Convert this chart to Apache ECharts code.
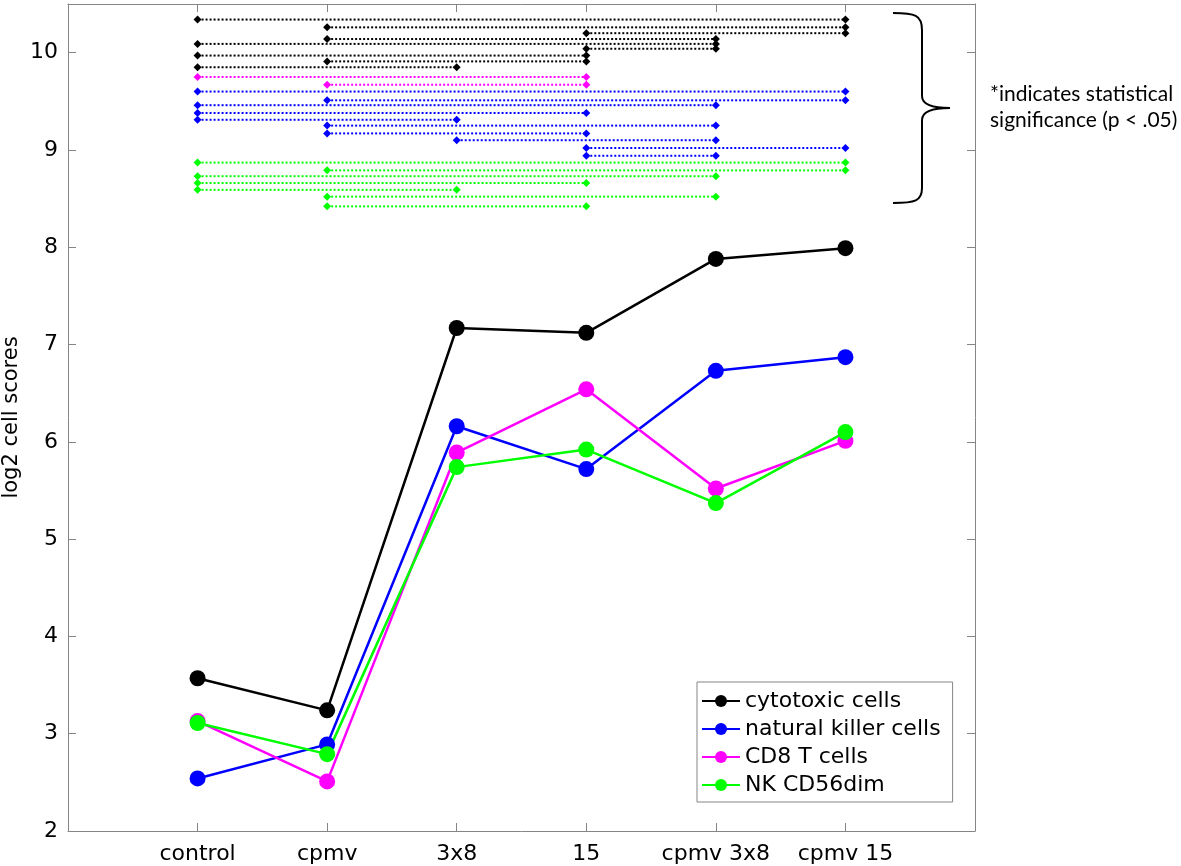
<!DOCTYPE html>
<html>
<head>
<meta charset="utf-8">
<script src="https://cdn.jsdelivr.net/npm/echarts@6/dist/echarts.min.js"></script>
<style>
  html, body { margin: 0; padding: 0; background: #fff; }
  #chart { width: 1181px; height: 866px; }
</style>
</head>
<body>
<div id="chart"></div>
<script>
// groups on the x axis, placed at 1..6
const categories = ['control', 'cpmv', '3x8', '15', 'cpmv 3x8', 'cpmv 15']

const seriesNames = ['cytotoxic cells', 'natural killer cells', 'CD8 T cells', 'NK CD56dim']
const cytotoxic = [3.57, 3.24, 7.17, 7.12, 7.88, 7.99]
const naturalKiller = [2.54, 2.89, 6.16, 5.72, 6.73, 6.87]
const cd8T = [3.13, 2.51, 5.89, 6.54, 5.52, 6.01]
const nkCd56dim = [3.11, 2.79, 5.74, 5.92, 5.37, 6.10]

// significant pairs: [from group, to group, height of the bracket line]
const sigCytotoxic = [[1, 6, 10.34], [2, 6, 10.26], [4, 6, 10.20], [2, 5, 10.14], [1, 5, 10.09],
  [4, 5, 10.04], [1, 4, 9.97], [2, 4, 9.91], [1, 3, 9.85]]
const sigCd8T = [[1, 4, 9.75], [2, 4, 9.67]]
const sigNaturalKiller = [[1, 6, 9.60], [2, 6, 9.51], [1, 5, 9.46], [1, 4, 9.38], [1, 3, 9.31],
  [2, 5, 9.25], [2, 4, 9.17], [3, 5, 9.10], [4, 6, 9.02], [4, 5, 8.94]]
const sigNkCd56dim = [[1, 6, 8.87], [2, 6, 8.79], [1, 5, 8.73], [1, 4, 8.66], [1, 3, 8.59],
  [2, 5, 8.52], [2, 4, 8.42]]

const yTicks = { min: 2, max: 10.5, interval: 1 }
const xTicks = { min: 0, max: 7, interval: 1 }

const colors = ['#000000', '#0000ff', '#ff00ff', '#00ff00']
const axisGray = '#858585'
const font = 'DejaVu Sans'

const chart = echarts.init(document.getElementById('chart'))

const toPoints = values => values.map((v, i) => [i + 1, v])

function mainSeries(name, values, color) {
  return {
    name: name,
    type: 'line',
    data: toPoints(values),
    symbol: 'circle',
    symbolSize: 16,
    lineStyle: { color: color, width: 2.5 },
    itemStyle: { color: color },
    z: 5
  }
}

function sigSeries(pairs, color) {
  return pairs.map(p => ({
    type: 'line',
    data: [[p[0], p[2]], [p[1], p[2]]],
    symbol: 'diamond',
    symbolSize: 8,
    lineStyle: { color: color, width: 2, type: [2, 2] },
    itemStyle: { color: color },
    silent: true,
    z: 3
  }))
}

const boxAxis = (extra) => Object.assign({
  type: 'value',
  axisLine: { show: true, onZero: false, lineStyle: { color: axisGray, width: 1 } },
  axisTick: { show: true, inside: true, length: 8, lineStyle: { color: axisGray } },
  splitLine: { show: false }
}, extra)

// curly brace next to the significance lines
const braceStyle = { fill: 'none', stroke: '#000', lineWidth: 2 }
const curve = (x1, y1, cx1, cy1, cx2, cy2, x2, y2) => ({
  type: 'bezierCurve',
  shape: { x1: x1, y1: y1, cpx1: cx1, cpy1: cy1, cpx2: cx2, cpy2: cy2, x2: x2, y2: y2 },
  style: braceStyle
})
const straight = (x1, y1, x2, y2) => ({
  type: 'line', shape: { x1: x1, y1: y1, x2: x2, y2: y2 }, style: braceStyle
})

const option = {
  animation: false,
  backgroundColor: '#fff',
  grid: { left: 68, right: 206, top: 4, bottom: 35, containLabel: false, outerBoundsMode: 'none' },
  xAxis: [
    boxAxis({
      position: 'bottom', min: xTicks.min, max: xTicks.max, interval: xTicks.interval,
      axisLabel: {
        color: '#000', fontFamily: font, fontSize: 22, margin: 12,
        formatter: v => categories[v - 1] || ''
      }
    }),
    boxAxis({
      position: 'top', min: xTicks.min, max: xTicks.max, interval: xTicks.interval,
      axisLabel: { show: false }
    })
  ],
  yAxis: [
    boxAxis({
      position: 'left', min: yTicks.min, max: yTicks.max, interval: yTicks.interval,
      name: 'log2 cell scores', nameLocation: 'middle', nameGap: 46, nameMoveOverlap: false,
      nameTextStyle: { color: '#000', fontFamily: font, fontSize: 21 },
      axisLabel: { color: '#000', fontFamily: font, fontSize: 22, margin: 10, showMaxLabel: false }
    }),
    boxAxis({
      position: 'right', min: yTicks.min, max: yTicks.max, interval: yTicks.interval,
      axisLabel: { show: false }
    })
  ],
  legend: {
    data: seriesNames,
    orient: 'vertical',
    left: 697,
    top: 682,
    itemWidth: 38,
    itemHeight: 15,
    itemGap: 6,
    padding: [8, 12, 6, 4],
    borderColor: axisGray,
    borderWidth: 1,
    backgroundColor: '#fff',
    textStyle: { color: '#000', fontFamily: font, fontSize: 22, lineHeight: 22 }
  },
  graphic: [
    curve(893, 13, 915, 13, 922, 15, 922, 30),
    straight(922, 30, 922, 96),
    curve(922, 96, 922, 105, 935, 108, 950, 108),
    curve(950, 108, 935, 108, 922, 111, 922, 120),
    straight(922, 120, 922, 188),
    curve(922, 188, 922, 201, 915, 203, 893, 203),
    {
      type: 'text',
      left: 990,
      top: 81,
      style: {
        text: '*indicates statistical\nsignificance (p < .05)',
        fill: '#000',
        font: '21px Lato',
        lineHeight: 26
      }
    }
  ],
  series: [].concat(
    sigSeries(sigCytotoxic, colors[0]),
    sigSeries(sigCd8T, colors[2]),
    sigSeries(sigNaturalKiller, colors[1]),
    sigSeries(sigNkCd56dim, colors[3]),
    [
      mainSeries(seriesNames[0], cytotoxic, colors[0]),
      mainSeries(seriesNames[1], naturalKiller, colors[1]),
      mainSeries(seriesNames[2], cd8T, colors[2]),
      mainSeries(seriesNames[3], nkCd56dim, colors[3])
    ]
  )
}

chart.setOption(option)
window.addEventListener('resize', () => chart.resize())
</script>
</body>
</html>
